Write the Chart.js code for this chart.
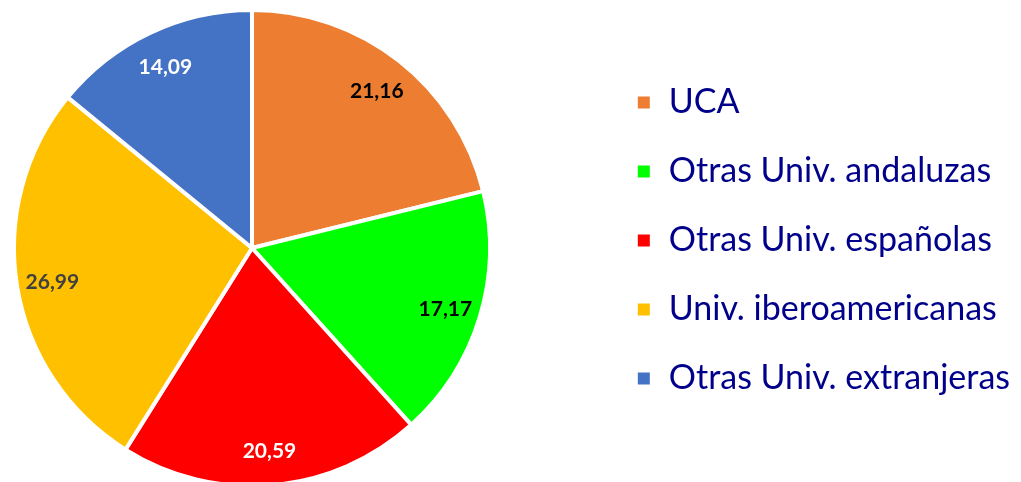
<!DOCTYPE html>
<html>
<head>
<meta charset="utf-8">
<script src="https://cdn.jsdelivr.net/npm/chart.js@4"></script>
<style>
  html, body { margin: 0; padding: 0; background: #ffffff; }
  #wrap { width: 1021px; height: 482px; }
</style>
</head>
<body>
<div id="wrap"><canvas id="pieChart"></canvas></div>
<script>
// Datos
const categorias = ['UCA', 'Otras Univ. andaluzas', 'Otras Univ. españolas', 'Univ. iberoamericanas', 'Otras Univ. extranjeras'];
const valores = [21.16, 17.17, 20.59, 26.99, 14.09];
const colores = ['#ed7d31', '#00ff00', '#ff0000', '#ffc000', '#4472c4'];
const coloresEtiqueta = ['#000000', '#000000', '#ffffff', '#404040', '#ffffff'];

// el área de la tarta: cuadrada y pegada a la izquierda
const areaTarta = {
    id: 'areaTarta',
    afterLayout(chart) {
        const a = chart.chartArea;
        a.left = 12;
        a.top = 8;
        a.right = a.left + 480;
        a.bottom = a.top + 480;
        a.width = a.right - a.left;
        a.height = a.bottom - a.top;
    }
};

// etiquetas de datos dentro de cada sector
const etiquetas = {
    id: 'etiquetas',
    afterDatasetsDraw(chart) {
        const ctx = chart.ctx;
        const meta = chart.getDatasetMeta(0);
        ctx.save();
        ctx.font = 'bold 21px Lato';
        ctx.textAlign = 'center';
        ctx.textBaseline = 'middle';
        meta.data.forEach((arc, i) => {
            const p = arc.getProps(['x', 'y', 'startAngle', 'endAngle', 'outerRadius']);
            const ang = (p.startAngle + p.endAngle) / 2;
            const r = p.outerRadius * 0.85;
            ctx.fillStyle = coloresEtiqueta[i];
            ctx.fillText(valores[i].toFixed(2).replace('.', ','), p.x + Math.cos(ang) * r, p.y + Math.sin(ang) * r + 2);
        });
        ctx.restore();
    }
};

const ctx = document.getElementById('pieChart').getContext('2d');
const pieChart = new Chart(ctx, {
    type: 'pie',
    data: {
        labels: categorias,
        datasets: [{
            data: valores,
            backgroundColor: colores,
            borderColor: '#ffffff',
            borderWidth: 4
        }]
    },
    options: {
        responsive: true,
        maintainAspectRatio: false,
        animation: false,
        layout: { padding: { left: 10, top: 0, right: 1, bottom: 1 } },
        plugins: {
            legend: {
                position: 'right',
                labels: {
                    boxWidth: 16,
                    boxHeight: 16,
                    padding: 35,
                    color: '#00008b',
                    font: { family: 'Lato', size: 34 }
                }
            },
            tooltip: { enabled: false }
        }
    },
    plugins: [areaTarta, etiquetas]
});
</script>
</body>
</html>
